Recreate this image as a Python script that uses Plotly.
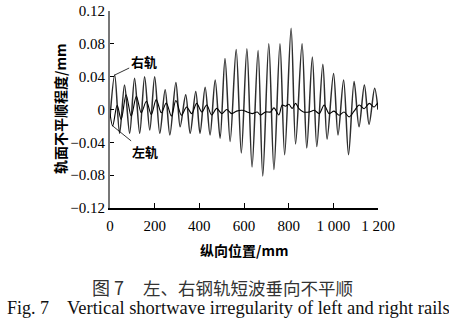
import plotly.graph_objects as go

# Right rail (右轨) extrema: position (mm), irregularity (mm)
right_x = [0, 21, 43, 65, 88, 110, 133, 155, 178, 200, 223, 247, 268, 295, 314, 339, 359, 384, 403,
           426, 448, 471, 493, 515, 538, 565, 588, 613, 636, 663, 684, 711, 734, 761, 782, 811,
           831, 860, 881, 906, 926, 953, 972, 1001, 1021, 1046, 1068, 1093, 1115, 1139, 1160,
           1185, 1200]
right_y = [-0.010, 0.042, -0.029, 0.030, -0.029, 0.038, -0.029, 0.040, -0.025, 0.040, -0.029,
           0.024, -0.031, 0.033, -0.021, 0.018, -0.029, 0.022, -0.029, 0.027, -0.031, 0.036,
           -0.035, 0.062, -0.039, 0.073, -0.053, 0.074, -0.070, 0.072, -0.081, 0.080, -0.073,
           0.080, -0.055, 0.099, -0.042, 0.080, -0.047, 0.064, -0.045, 0.055, -0.036, 0.044,
           -0.031, 0.036, -0.055, 0.034, -0.021, 0.030, -0.018, 0.026, 0.000]

# Left rail (左轨)
left_x = [0, 12, 32, 50, 72, 95, 118, 140, 163, 185, 207, 230, 252, 275, 295, 320, 343, 366, 388,
          411, 433, 455, 478, 500, 523, 545, 567, 592, 614, 637, 659, 674, 696, 719, 734, 756,
          771, 786, 801, 816, 831, 846, 866, 892, 915, 937, 959, 981, 1003, 1026, 1048, 1071,
          1093, 1116, 1138, 1161, 1183, 1198, 1200]
left_y = [-0.005, -0.020, 0.005, -0.012, 0.018, -0.008, 0.016, -0.004, 0.010, -0.006, 0.012,
          -0.004, 0.008, -0.008, 0.011, -0.007, 0.003, -0.005, 0.0075, -0.003, 0.0055, -0.0067,
          0.0014, -0.005, 0.000, -0.005, -0.002, -0.001, -0.003, -0.005, -0.003, -0.0067, -0.003,
          -0.003, 0.002, -0.0067, 0.0055, 0.004, 0.0063, 0.0014, 0.0075, 0.001, -0.003, -0.003,
          -0.001, -0.005, 0.0055, -0.005, -0.002, -0.007, -0.003, -0.009, -0.002, 0.0055, 0.001,
          0.0075, 0.003, 0.0075, 0.000]

x_ticks = [0, 200, 400, 600, 800, 1000, 1200]
x_ticktext = ["0", "200", "400", "600", "800", "1 000", "1 200"]
y_ticks = [-0.12, -0.08, -0.04, 0, 0.04, 0.08, 0.12]
y_ticktext = ["\u22120.12", "\u22120.08", "\u22120.04", "0", "0.04", "0.08", "0.12"]

serif = "Liberation Serif, Times New Roman, serif"
cjk = "Noto Sans CJK SC, sans-serif"

# plot area in pixels
plot_l, plot_r, plot_t, plot_b = 110, 378, 11, 208
W, H = 449, 330
pw, ph = plot_r - plot_l, plot_b - plot_t


def px_to_paper(px, py):
    return (px - plot_l) / pw, (plot_b - py) / ph


fig = go.Figure()
fig.add_trace(go.Scatter(x=right_x, y=right_y, mode="lines", name="右轨",
                         line=dict(color="#2e2e2e", width=1.5, shape="spline", smoothing=0.9)))
fig.add_trace(go.Scatter(x=left_x, y=left_y, mode="lines", name="左轨",
                         line=dict(color="#000000", width=1.1, shape="spline", smoothing=0.9)))


def text_ann(text, px, py, family, size, color="black"):
    x, y = px_to_paper(px, py)
    return dict(x=x, y=y, xref="paper", yref="paper", text=text, showarrow=False,
                xanchor="center", yanchor="middle",
                font=dict(family=family, size=size, color=color))


yt = text_ann("<b>轨面不平顺程度/mm</b>", 60, 109, cjk, 14)
yt["textangle"] = -90

annotations = [
    dict(x=21, y=0.042, xref="x", yref="y", text="<b>右轨</b>", showarrow=True,
         arrowhead=0, arrowwidth=0.8, arrowcolor="black", ax=29, ay=-14,
         font=dict(family=cjk, size=13, color="black")),
    dict(x=12, y=-0.020, xref="x", yref="y", text="<b>左轨</b>", showarrow=True,
         arrowhead=0, arrowwidth=0.8, arrowcolor="black", ax=32, ay=26,
         font=dict(family=cjk, size=13, color="black")),
    yt,
    text_ann("<b>纵向位置/mm</b>", 244, 250, cjk, 14),
    text_ann("图 7", 108, 287, cjk, 18, "#333333"),
    text_ann("左、右钢轨短波垂向不平顺", 248, 287, cjk, 17.5, "#333333"),
    text_ann("Fig. 7", 28, 308, serif, 18, "#111111"),
    text_ann("Vertical shortwave irregularity of left and right rails", 258, 308, serif, 18.5,
             "#111111"),
]

fig.update_layout(
    template="none",
    width=W, height=H,
    margin=dict(l=plot_l, r=W - plot_r, t=plot_t, b=H - plot_b, autoexpand=False),
    paper_bgcolor="white", plot_bgcolor="white",
    showlegend=False,
    font=dict(family=serif, size=15, color="black"),
    xaxis=dict(range=[0, 1200], tickvals=x_ticks, ticktext=x_ticktext,
               ticks="inside", ticklen=5, tickwidth=1, tickcolor="black",
               showline=True, linecolor="black", linewidth=1.5, showgrid=False,
               zeroline=False, automargin=False, ticklabelstandoff=3,
               tickfont=dict(family=serif, size=15)),
    yaxis=dict(range=[-0.12, 0.12], tickvals=y_ticks, ticktext=y_ticktext,
               ticks="inside", ticklen=4, tickwidth=1, tickcolor="black",
               showline=True, linecolor="#777777", linewidth=2, showgrid=False,
               zeroline=False, automargin=False,
               tickfont=dict(family=serif, size=15)),
    annotations=annotations,
)

fig.write_html("out.html")
